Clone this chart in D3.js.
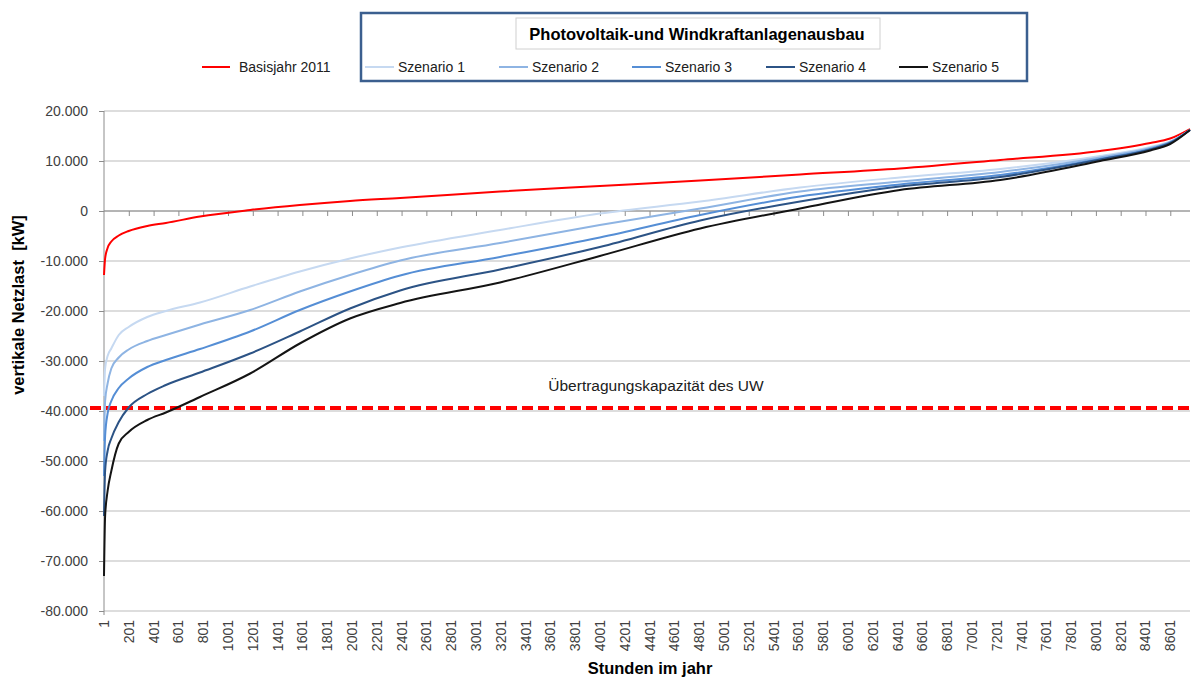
<!DOCTYPE html>
<html>
<head>
<meta charset="utf-8">
<script src="https://cdn.jsdelivr.net/npm/d3@7"></script>
<style>
  body { margin: 0; background: #fff; }
  svg { font-family: "Liberation Sans", Arial, sans-serif; }
</style>
</head>
<body>
<div id="chart"></div>
<script>
// hours of the year (sorted load duration curve), sample points
const hours = [1, 10, 30, 60, 120, 200, 350, 500, 775, 1180, 1580, 1985, 2390, 3195, 4000, 4810, 5615, 6420, 7230, 8035, 8440, 8600, 8760];

// vertikale Netzlast in kW
const basisjahr2011 = [-12800, -9500, -7400, -6100, -4900, -4000, -3000, -2400, -1100, 200, 1200, 2000, 2600, 3900, 5000, 6100, 7300, 8500, 10200, 12000, 13600, 14500, 16400];
const szenario1 = [-37000, -31500, -29000, -27500, -24800, -23200, -21200, -20000, -18300, -15100, -12100, -9500, -7300, -3800, -500, 1900, 4700, 6700, 8400, 11000, 12800, 13900, 16200];
const szenario2 = [-46000, -38000, -34500, -31500, -29300, -27700, -26000, -24800, -22700, -19800, -16100, -12800, -9900, -6400, -2800, 500, 3900, 5900, 7800, 10700, 12600, 13800, 16200];
const szenario3 = [-53000, -45000, -40500, -38000, -35400, -33500, -31200, -29800, -27600, -24100, -19800, -16100, -12900, -9200, -5300, -800, 2900, 5300, 7200, 10400, 12400, 13700, 16200];
const szenario4 = [-61000, -52000, -48000, -45500, -42200, -39300, -36600, -34800, -32300, -28500, -24100, -19500, -15900, -11700, -7200, -1900, 1900, 4900, 6800, 10300, 12300, 13600, 16200];
const szenario5 = [-73000, -61000, -56000, -52000, -46500, -44200, -41800, -40300, -37200, -32500, -26500, -21500, -18400, -14300, -9000, -3500, 500, 4200, 6200, 10000, 12100, 13400, 16200];

const seriesNames = ["Basisjahr 2011", "Szenario 1", "Szenario 2", "Szenario 3", "Szenario 4", "Szenario 5"];
const seriesValues = [basisjahr2011, szenario1, szenario2, szenario3, szenario4, szenario5];
const seriesColors = ["#ff0000", "#c6d9f1", "#8eb4e3", "#558ed5", "#2c5385", "#141414"];

const kapazitaet = -39400;

const yTicks = [20000, 10000, 0, -10000, -20000, -30000, -40000, -50000, -60000, -70000, -80000];
const xTicks = [1, 201, 401, 601, 801, 1001, 1201, 1401, 1601, 1801, 2001, 2201, 2401, 2601, 2801, 3001, 3201, 3401, 3601, 3801, 4001, 4201, 4401, 4601, 4801, 5001, 5201, 5401, 5601, 5801, 6001, 6201, 6401, 6601, 6801, 7001, 7201, 7401, 7601, 7801, 8001, 8201, 8401, 8601];

const W = 1192, H = 678;
const plot = { left: 104, right: 1190, top: 111, bottom: 611 };

const svg = d3.select("#chart").append("svg")
    .attr("width", W).attr("height", H);

const x = d3.scaleLinear().domain([1, 8760]).range([plot.left, plot.right]);
const y = d3.scaleLinear().domain([-80000, 20000]).range([plot.bottom, plot.top]);

const de = d3.formatLocale({ decimal: ",", thousands: ".", grouping: [3], currency: ["", " €"], minus: "-" });
const fmt = de.format(",.0f");

// grid lines
svg.append("g").selectAll("line").data(yTicks).join("line")
    .attr("x1", plot.left).attr("x2", plot.right)
    .attr("y1", d => y(d)).attr("y2", d => y(d))
    .attr("stroke", "#bcbcbc").attr("stroke-width", 1.2);

// y axis
let yAxis = svg.append("g").attr("transform", "translate(" + plot.left + ",0)")
    .call(d3.axisLeft(y).tickValues(yTicks).tickFormat(fmt).tickSize(5).tickPadding(11));
yAxis.select(".domain").attr("stroke", "#8c8c8c").attr("d", "M0," + plot.top + "V" + (plot.bottom + 4));
yAxis.selectAll(".tick line").attr("stroke", "#8c8c8c");
yAxis.selectAll("text").attr("font-size", 14).attr("fill", "#404040");

// x axis line at zero with tick marks
let xAxis = svg.append("g").attr("transform", "translate(0," + y(0) + ")")
    .call(d3.axisBottom(x).tickValues(xTicks.slice(1)).tickSize(5).tickFormat(""));
xAxis.select(".domain").attr("stroke", "#8c8c8c").attr("d", "M" + plot.left + ",0H" + plot.right);
xAxis.selectAll(".tick line").attr("stroke", "#8c8c8c");

// x tick labels at bottom, rotated
svg.append("g").selectAll("text").data(xTicks).join("text")
    .attr("transform", d => "translate(" + (x(d) + 5) + "," + (plot.bottom + 9) + ") rotate(-90)")
    .attr("text-anchor", "end")
    .attr("font-size", 14)
    .attr("fill", "#404040")
    .text(d => d);

// axis titles
svg.append("text")
    .attr("transform", "translate(24," + 305 + ") rotate(-90)")
    .attr("text-anchor", "middle")
    .attr("font-size", 16.5).attr("font-weight", "bold")
    .attr("xml:space", "preserve")
    .text("vertikale Netzlast  [kW]");

svg.append("text")
    .attr("x", 650).attr("y", 674)
    .attr("text-anchor", "middle")
    .attr("font-size", 16.5).attr("font-weight", "bold")
    .text("Stunden im jahr");

// capacity line
svg.append("line")
    .attr("x1", 90).attr("x2", plot.right)
    .attr("y1", y(kapazitaet)).attr("y2", y(kapazitaet))
    .attr("stroke", "#ff0000").attr("stroke-width", 4)
    .attr("stroke-dasharray", "11,5");

svg.append("text")
    .attr("x", 656).attr("y", 391)
    .attr("text-anchor", "middle")
    .attr("font-size", 15.5)
    .attr("fill", "#202020")
    .text("Übertragungskapazität des UW");

// curves
const lineGen = d3.line()
    .x(d => x(d.h))
    .y(d => y(d.v))
    .curve(d3.curveMonotoneX);

svg.append("g").attr("id", "lines").selectAll("path")
    .data(seriesValues.map((vals, i) => ({ name: seriesNames[i], color: seriesColors[i], pts: vals.map((v, j) => ({ h: hours[j], v: v })) })))
    .join("path")
    .attr("fill", "none")
    .attr("stroke", d => d.color)
    .attr("stroke-width", 2)
    .attr("stroke-linejoin", "round")
    .attr("d", d => lineGen(d.pts));

// legend
svg.append("rect")
    .attr("x", 361).attr("y", 13).attr("width", 666).attr("height", 68)
    .attr("fill", "none").attr("stroke", "#3b5f8f").attr("stroke-width", 2.5);
svg.append("rect")
    .attr("x", 516).attr("y", 18).attr("width", 364).attr("height", 31)
    .attr("fill", "#fff").attr("stroke", "#d0d0d0").attr("stroke-width", 1);
svg.append("text")
    .attr("x", 697).attr("y", 40)
    .attr("text-anchor", "middle")
    .attr("font-size", 16.5).attr("font-weight", "bold")
    .text("Photovoltaik-und Windkraftanlagenausbau");

const legendX = [202, 365, 499, 632, 766, 899];
let legend = svg.append("g").selectAll("g").data(seriesNames).join("g")
    .attr("transform", (d, i) => "translate(" + legendX[i] + ",67)");
legend.append("line")
    .attr("x1", 0).attr("x2", (d, i) => i == 0 ? 28 : 29)
    .attr("stroke", (d, i) => seriesColors[i]).attr("stroke-width", 2);
legend.append("text")
    .attr("x", (d, i) => i == 0 ? 37 : 33).attr("y", 5)
    .attr("font-size", 14).attr("fill", "#202020")
    .text(d => d);
</script>
</body>
</html>
